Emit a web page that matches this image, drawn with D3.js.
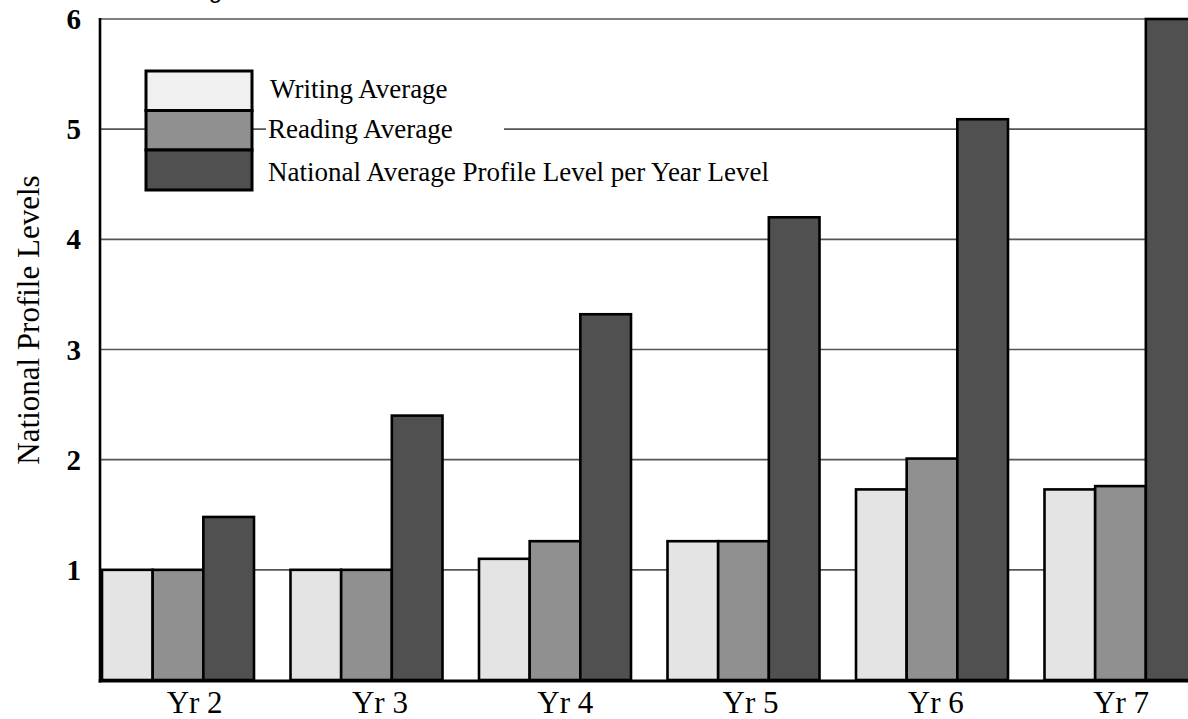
<!DOCTYPE html>
<html>
<head>
<meta charset="utf-8">
<script src="https://cdn.jsdelivr.net/npm/d3@7"></script>
<style>
  html, body { margin: 0; padding: 0; background: #fff; }
  svg { display: block; }
</style>
</head>
<body>
<svg id="chart" width="1188" height="719"></svg>
<script>
// Year levels along the x axis
const categories = ["Yr 2", "Yr 3", "Yr 4", "Yr 5", "Yr 6", "Yr 7"];
// Series shown in each group
const seriesNames = ["Writing Average", "Reading Average", "National Average Profile Level per Year Level"];
// Profile levels per year level
const writingAvg = [1.0, 1.0, 1.1, 1.26, 1.73, 1.73];
const readingAvg = [1.0, 1.0, 1.26, 1.26, 2.01, 1.76];
const nationalAvg = [1.48, 2.4, 3.32, 4.2, 5.09, 6.0];
// Y axis tick values
const yTicks = [1, 2, 3, 4, 5, 6];
const yTitle = "National Profile Levels";
const chartTitle = "Writing";

const barFills = ["#e4e4e4", "#909090", "#505050"];
const swatchFills = ["#f0f0f0", "#909090", "#505050"];
const serifFont = "'Liberation Serif', 'Times New Roman', serif";

const svg = d3.select("#chart");
const W = 1188, H = 719;
const axisX = 100, axisY = 681;

// Bar groups and the category label slots
const x0 = d3.scaleBand().domain(categories).range([102, 102 + 6 * 188.5]).padding(0);
const xLabel = d3.scaleBand().domain(categories).range([102, 102 + 6 * 185.3]).padding(0);
const x1 = d3.scaleBand().domain(seriesNames).range([0, 152]).padding(0);
const y = d3.scaleLinear().domain([0, 6]).range([680, 19]);

const seriesValues = [writingAvg, readingAvg, nationalAvg];
const rows = categories.map((c, i) => ({
  cat: c,
  vals: seriesNames.map((s, k) => ({ series: s, k, v: seriesValues[k][i] }))
}));

// Title (sits above the plot, mostly outside the frame)
svg.append("text")
  .attr("x", 222).attr("y", -2)
  .attr("text-anchor", "end")
  .attr("font-family", "'Liberation Sans', Arial, sans-serif")
  .attr("font-size", 24)
  .attr("fill", "#000")
  .text(chartTitle);

// Horizontal gridlines
svg.append("g")
  .selectAll("line")
  .data(yTicks)
  .join("line")
  .attr("x1", axisX).attr("x2", W)
  .attr("y1", d => y(d)).attr("y2", d => y(d))
  .attr("stroke", "#555")
  .attr("stroke-width", 1.6);

// Grouped bars
svg.append("g")
  .selectAll("g")
  .data(rows)
  .join("g")
  .attr("transform", d => `translate(${x0(d.cat)},0)`)
  .selectAll("rect")
  .data(d => d.vals)
  .join("rect")
  .attr("x", d => x1(d.series))
  .attr("width", x1.bandwidth())
  .attr("y", d => y(d.v))
  .attr("height", d => y(0) - y(d.v))
  .attr("fill", d => barFills[d.k])
  .attr("stroke", "#000")
  .attr("stroke-width", 2.6);

// Axis lines
svg.append("line")
  .attr("x1", axisX).attr("x2", axisX)
  .attr("y1", 18).attr("y2", axisY + 1.5)
  .attr("stroke", "#000").attr("stroke-width", 2.6);
svg.append("line")
  .attr("x1", axisX - 1.3).attr("x2", W)
  .attr("y1", axisY).attr("y2", axisY)
  .attr("stroke", "#000").attr("stroke-width", 3);

// Y tick labels
svg.append("g")
  .selectAll("text")
  .data(yTicks)
  .join("text")
  .attr("x", 81)
  .attr("y", d => y(d) + 10)
  .attr("text-anchor", "end")
  .attr("font-family", serifFont)
  .attr("font-weight", "bold")
  .attr("font-size", 29)
  .attr("fill", "#000")
  .text(d => d3.format("d")(d));

// X category labels
svg.append("g")
  .selectAll("text")
  .data(categories)
  .join("text")
  .attr("x", d => xLabel(d) + xLabel.bandwidth() / 2)
  .attr("y", 713)
  .attr("text-anchor", "middle")
  .attr("font-family", serifFont)
  .attr("font-size", 31)
  .attr("fill", "#000")
  .text(d => d);

// Y axis title
svg.append("text")
  .attr("transform", "translate(39,320) rotate(-90)")
  .attr("text-anchor", "middle")
  .attr("font-family", serifFont)
  .attr("font-size", 31)
  .attr("fill", "#000")
  .text(yTitle);

// Legend
const legend = svg.append("g");
const legendRows = [71, 110.5, 150];
const legendH = [39.5, 39.5, 40];
const legendBaselines = [98, 138, 181];
legend.selectAll("rect.bg")
  .data(seriesNames)
  .join("rect")
  .attr("class", "bg")
  .attr("x", 266).attr("width", 238)
  .attr("y", (d, i) => legendRows[i] + 2)
  .attr("height", (d, i) => legendH[i] - 4)
  .attr("fill", "#fff");
legend.selectAll("rect.sw")
  .data(seriesNames)
  .join("rect")
  .attr("class", "sw")
  .attr("x", 146).attr("width", 106)
  .attr("y", (d, i) => legendRows[i])
  .attr("height", (d, i) => legendH[i])
  .attr("fill", (d, i) => swatchFills[i])
  .attr("stroke", "#000")
  .attr("stroke-width", 3);
legend.selectAll("text")
  .data(seriesNames)
  .join("text")
  .attr("x", (d, i) => i === 0 ? 270 : 268)
  .attr("y", (d, i) => legendBaselines[i])
  .attr("font-family", serifFont)
  .attr("font-size", 27)
  .attr("fill", "#000")
  .text(d => d);
</script>
</body>
</html>
